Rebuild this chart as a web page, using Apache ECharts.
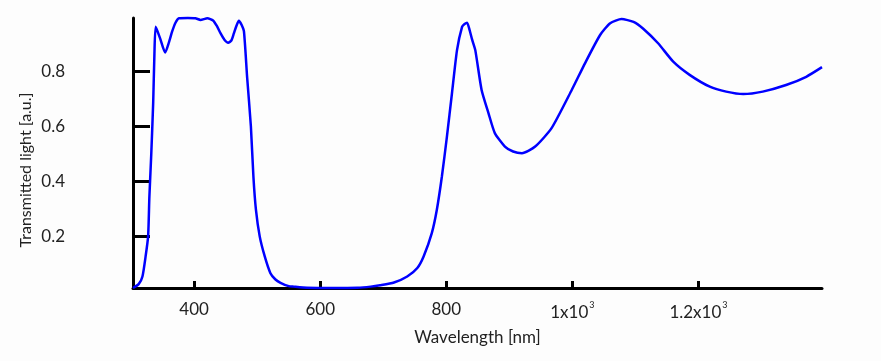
<!DOCTYPE html>
<html>
<head>
<meta charset="utf-8">
<script src="https://cdn.jsdelivr.net/npm/echarts@6/dist/echarts.min.js"></script>
<style>
html,body{margin:0;padding:0;background:#fdfdfd;}
#c{width:881px;height:361px;}
</style>
</head>
<body>
<div id="c"></div>
<script>
const wavelength = [303,312,318,323,327,329,332,335,337,339,346,354,360,365,370,376,390,402,410,421,430,436,442,448,454,459,463,467,471,475,479,484,490,494,498,504,512,521,529,537,550,558,579,620,659,680,695,717,738,754,764,777,785,793,801,809,817,825,829,833,837,841,846,856,867,877,893,906,920,941,967,999,1020,1044,1060,1078,1097,1112,1136,1160,1186,1218,1244,1271,1302,1339,1371,1396];
const transmitted = [0.011,0.025,0.053,0.126,0.20,0.344,0.50,0.684,0.865,0.962,0.92,0.868,0.905,0.944,0.975,0.993,0.994,0.993,0.987,0.993,0.985,0.965,0.938,0.915,0.904,0.912,0.938,0.965,0.984,0.97,0.945,0.78,0.60,0.417,0.296,0.199,0.126,0.065,0.042,0.030,0.018,0.016,0.012,0.011,0.012,0.016,0.021,0.031,0.053,0.084,0.126,0.211,0.296,0.417,0.562,0.72,0.877,0.962,0.972,0.977,0.95,0.915,0.877,0.732,0.647,0.575,0.526,0.508,0.502,0.526,0.593,0.732,0.829,0.932,0.975,0.99,0.98,0.956,0.902,0.835,0.787,0.744,0.726,0.717,0.726,0.75,0.78,0.815];
const xTicks = [400,600,800,1000,1200];
const xTickLabels = ['400','600','800','1x10|3','1.2x10|3'];
const yTicks = [0.2,0.4,0.6,0.8];
const yTickLabels = ['0.2','0.4','0.6','0.8'];
const xTitle = 'Wavelength [nm]';
const yTitle = 'Transmitted light [a.u.]';

const chart = echarts.init(document.getElementById('c'));
const font = 'Lato';
const txt = '#222';
chart.setOption({
  backgroundColor: '#fdfdfd',
  animation: false,
  textStyle: {fontFamily: font},
  grid: {left: 133, right: 59, top: 18, bottom: 73},
  xAxis: {
    type: 'value', min: 303, max: 1396,
    splitLine: {show: false},
    axisLine: {lineStyle: {color: '#000', width: 3}},
    axisTick: {inside: true, length: 7, lineStyle: {color: '#000', width: 3}, customValues: xTicks},
    axisLabel: {
      customValues: xTicks, margin: 13, color: txt, fontSize: 17, fontFamily: font,
      formatter: function (v) {
        const s = xTickLabels[xTicks.indexOf(v)] || '';
        const p = s.split('|');
        return p.length > 1 ? '{a|' + p[0] + '}{s|' + p[1] + '}' : '{a|' + p[0] + '}';
      },
      rich: {
        a: {fontSize: 17, fontFamily: font, color: txt},
        s: {fontSize: 9, fontFamily: font, color: txt, padding: [0, 0, 14, 1]}
      }
    },
    name: xTitle, nameLocation: 'middle', nameGap: 41,
    nameTextStyle: {fontSize: 17, color: txt, fontFamily: font}
  },
  yAxis: {
    type: 'value', min: 0.011, max: 0.994,
    splitLine: {show: false},
    axisLine: {lineStyle: {color: '#000', width: 3}},
    axisTick: {inside: true, length: 17, lineStyle: {color: '#000', width: 3}, customValues: yTicks},
    axisLabel: {
      customValues: yTicks, margin: 68, color: txt, fontSize: 17, fontFamily: font,
      formatter: function (v) { return yTickLabels[yTicks.indexOf(v)] || ''; }
    }
  },
  graphic: [{
    type: 'text', x: 26, y: 170, rotation: Math.PI / 2,
    style: {text: yTitle, fill: txt, fontSize: 16, fontFamily: font, align: 'center', verticalAlign: 'middle'}
  }],
  series: [{
    type: 'line', showSymbol: false, symbol: 'none',
    data: wavelength.map((w, i) => [w, transmitted[i]]),
    lineStyle: {color: '#0000ff', width: 2.5},
    smooth: 0.2, clip: false
  }]
});
</script>
</body>
</html>
